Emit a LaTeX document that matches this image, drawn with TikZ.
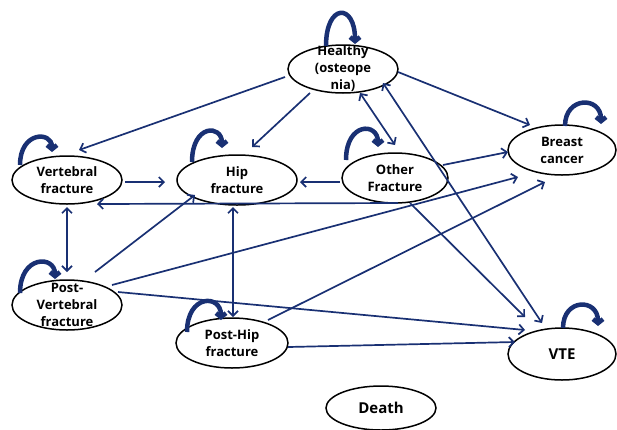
\documentclass[tikz,border=0pt]{standalone}
\usepackage{fontspec}
\setmainfont{Open Sans}
\usetikzlibrary{shapes.geometric,arrows.meta,calc}
\definecolor{navy}{RGB}{25,48,115}
\tikzset{
  state/.style={ellipse,draw=black,line width=1.5pt,inner sep=0pt},
  lab/.style={align=center,font=\bfseries\fontsize{13}{17}\selectfont,inner sep=0pt},
  biglab/.style={align=center,font=\bfseries\fontsize{15}{18}\selectfont,inner sep=0pt},
  conn/.style={draw=navy,line width=1.7pt,-{Straight Barb[length=5pt,width=10pt]}},
  dconn/.style={draw=navy,line width=1.7pt,{Straight Barb[length=5pt,width=10pt]}-{Straight Barb[length=5pt,width=10pt]}},
  selfloop/.style={draw=navy,line width=4.5pt,-{Straight Barb[length=4pt,width=10pt]}}
}
\begin{document}
\begin{tikzpicture}[x=1pt,y=-1pt]
\useasboundingbox (0,0) rectangle (617,429);
% states
\node[state,minimum width=110pt,minimum height=48pt,label={[lab]center:Healthy\\(osteope\\nia)}] (h) at (343,69) {};
\node[state,minimum width=110pt,minimum height=48pt,label={[lab]center:Vertebral\\fracture}] (vf) at (67,180) {};
\node[state,minimum width=120pt,minimum height=50pt,label={[lab]center:Hip\\fracture}] (hf) at (237,180) {};
\node[state,minimum width=106pt,minimum height=50pt,label={[lab]center:Other\\Fracture}] (of) at (395,178) {};
\node[state,minimum width=108pt,minimum height=50pt,label={[lab]center:Breast\\cancer}] (bc) at (562,150) {};
\node[state,minimum width=110pt,minimum height=50pt,label={[lab]center:Post-\\Vertebral\\fracture}] (pv) at (67,305) {};
\node[state,minimum width=112pt,minimum height=50pt,label={[lab]center:Post-Hip\\fracture}] (ph) at (232,343) {};
\node[state,minimum width=108pt,minimum height=52pt,label={[biglab]center:VTE}] (vte) at (562,354) {};
\node[state,minimum width=110pt,minimum height=44pt,label={[biglab]center:Death}] (d) at (381,408) {};
% self loops
\draw[selfloop] ($(h)+(-17,-23)$) .. controls ($(h)+(-17,-66)$) and ($(h)+(12,-66)$) .. ($(h)+(12,-25)$);
\draw[selfloop] ($(vf)+(-47,-15)$) .. controls ($(vf)+(-47,-49)$) and ($(vf)+(-15,-49)$) .. ($(vf)+(-15,-28)$);
\draw[selfloop] ($(hf)+(-45,-18)$) .. controls ($(hf)+(-45,-56)$) and ($(hf)+(-15,-56)$) .. ($(hf)+(-15,-32)$);
\draw[selfloop] ($(of)+(-49,-18)$) .. controls ($(of)+(-49,-56)$) and ($(of)+(-17,-56)$) .. ($(of)+(-17,-31)$);
\draw[selfloop] ($(bc)+(3,-24)$) .. controls ($(bc)+(3,-54)$) and ($(bc)+(39,-54)$) .. ($(bc)+(39,-26)$);
\draw[selfloop] ($(pv)+(-47,-12)$) .. controls ($(pv)+(-47,-50)$) and ($(pv)+(-12,-50)$) .. ($(pv)+(-12,-26)$);
\draw[selfloop] ($(ph)+(-45,-11)$) .. controls ($(ph)+(-45,-49)$) and ($(ph)+(-11,-49)$) .. ($(ph)+(-11,-23)$);
\draw[selfloop] ($(vte)+(1,-26)$) .. controls ($(vte)+(1,-56)$) and ($(vte)+(36,-56)$) .. ($(vte)+(36,-28)$);
% connectors
\draw[conn] ($(h)+(-58,8)$) -- ($(vf)+(12,-30)$);
\draw[conn] ($(h)+(-33,24)$) -- ($(hf)+(15,-33)$);
\draw[dconn] ($(h)+(17,24)$) -- ($(of)+(0,-33)$);
\draw[conn] ($(h)+(55,3)$) -- ($(bc)+(-32,-25)$);
\draw[dconn] ($(vte)+(-20,-31)$) -- ($(h)+(40,14)$);
\draw[conn] ($(vf)+(58,2)$) -- ($(hf)+(-72,2)$);
\draw[conn] ($(of)+(-55,4)$) -- ($(hf)+(63,2)$);
\draw[conn] ($(of)+(48,-13)$) -- ($(bc)+(-54,2)$);
\draw[conn] ($(of)+(3,25)$) -- ($(vf)+(30,24)$);
\draw[conn] ($(of)+(15,25)$) -- ($(vte)+(-37,-37)$);
\draw[dconn] ($(vf)+(0,27)$) -- ($(pv)+(0,-33)$);
\draw[conn] ($(pv)+(28,-33)$) -- ($(hf)+(-42,15)$);
\draw[conn] ($(pv)+(45,-20)$) -- ($(bc)+(-44,27)$);
\draw[conn] ($(pv)+(51,-13)$) -- ($(vte)+(-37,-24)$);
\draw[dconn] ($(hf)+(-4,27)$) -- ($(ph)+(1,-26)$);
\draw[conn] ($(ph)+(36,-23)$) -- ($(bc)+(-17,32)$);
\draw[conn] ($(ph)+(56,4)$) -- ($(vte)+(-47,-12)$);
\end{tikzpicture}
\end{document}
